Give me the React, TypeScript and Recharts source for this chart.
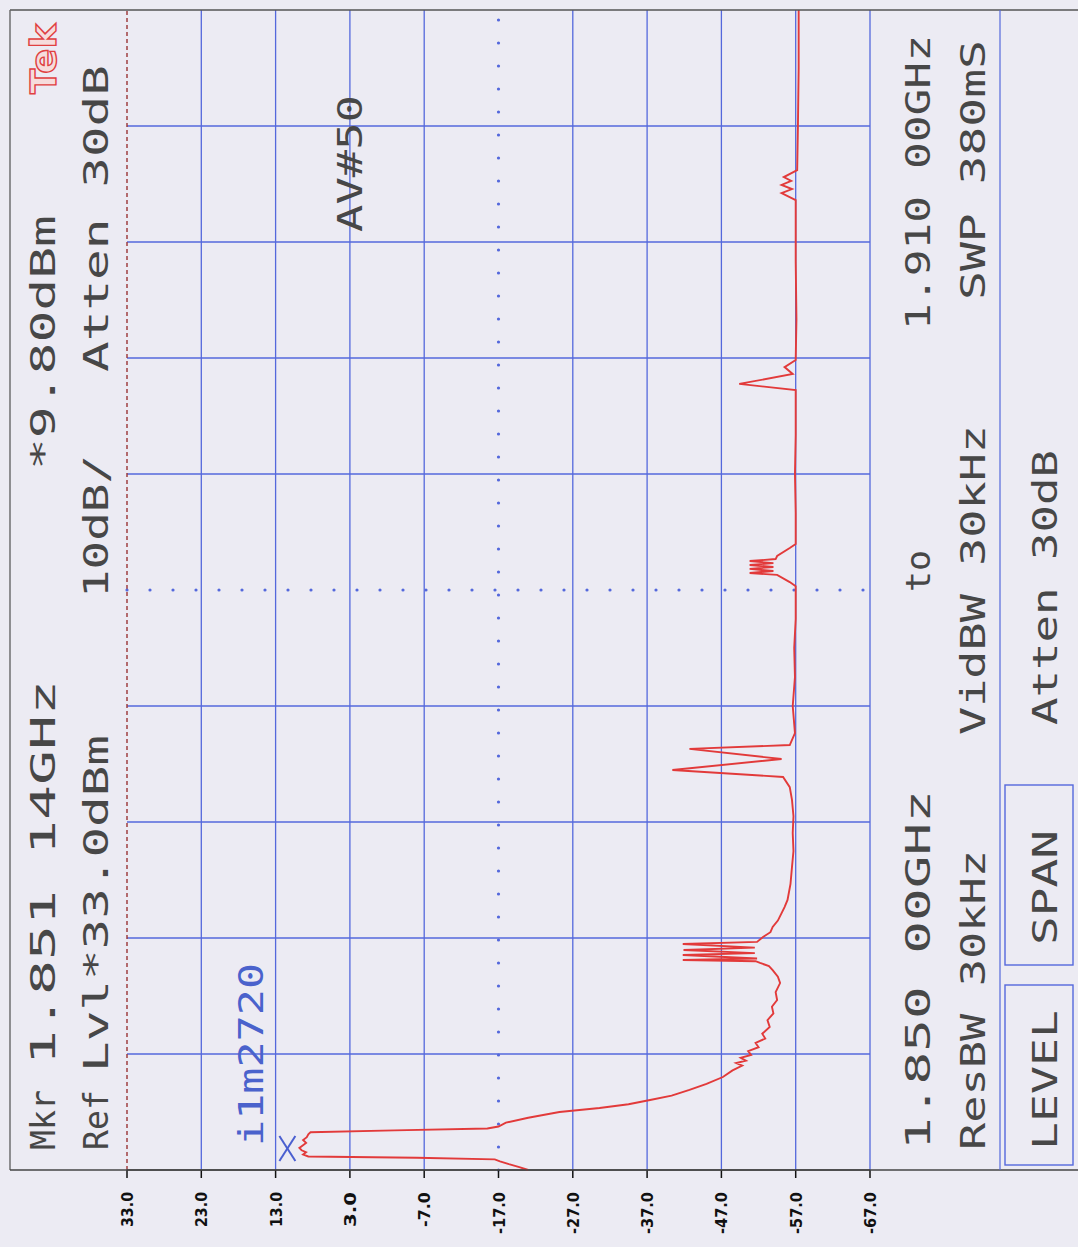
import React from 'react';
import { ScatterChart, Scatter, XAxis, YAxis, ReferenceLine } from 'recharts';

// trace: frequency (MHz) and level (dBm)
const FREQ_MHZ = [
  1850.0, 1850.15, 1850.3, 1850.45, 1850.55, 1850.63, 1850.7, 1850.8, 1850.92, 1851.02,
  1851.14, 1851.26, 1851.4, 1851.55, 1851.7, 1851.85, 1851.95, 1852.05, 1852.15, 1852.25,
  1852.45, 1852.7, 1853.0, 1853.21, 1853.4, 1853.62, 1853.85, 1854.14, 1854.45, 1854.81,
  1855.15, 1855.4, 1855.53, 1855.65, 1855.8, 1855.95, 1856.15, 1856.35, 1856.57, 1856.8,
  1857.05, 1857.4, 1857.75, 1858.1, 1858.45, 1858.79, 1859.2, 1859.67, 1860.0, 1860.34,
  1860.55, 1860.71, 1860.8, 1860.86, 1860.94, 1861.12, 1861.22, 1861.38, 1861.5, 1861.69,
  1861.8, 1862.05, 1862.3, 1862.57, 1862.9, 1863.29, 1863.6, 1863.97, 1864.8, 1865.67,
  1866.5, 1867.43, 1868.3, 1869.14, 1869.8, 1870.33, 1870.69, 1871.26, 1871.78, 1871.98,
  1872.6, 1874.0, 1875.5, 1877.0, 1878.5, 1880.2, 1880.41, 1880.78, 1880.88, 1880.98,
  1881.09, 1881.19, 1881.29, 1881.39, 1881.5, 1881.6, 1881.76, 1882.17, 1882.38, 1884.0,
  1886.0, 1888.0, 1890.34, 1890.66, 1891.17, 1891.53, 1891.9, 1894.0, 1897.0, 1900.17,
  1900.53, 1900.74, 1900.95, 1901.16, 1901.36, 1901.72, 1904.0, 1907.0, 1910.0,
];

const LEVEL_DBM = [
  -21.0, -19.8, -18.4, -17.2, -16.5, -6.0, 8.6, 9.3, 8.9, 9.5,
  9.8, 9.4, 8.9, 9.3, 8.8, 8.6, 8.3, -3.0, -15.5, -17.0,
  -18.0, -21.0, -25.2, -30.6, -34.5, -37.4, -40.3, -42.7, -45.0, -47.2,
  -48.5, -49.8, -49.0, -50.3, -49.6, -51.0, -50.6, -52.0, -51.6, -52.9,
  -52.5, -53.5, -53.2, -54.0, -53.8, -54.5, -54.3, -54.9, -54.6, -53.9,
  -53.4, -52.2, -51.6, -41.8, -51.8, -41.8, -51.5, -41.9, -51.5, -41.8,
  -51.8, -52.6, -53.6, -53.9, -54.6, -55.1, -55.5, -55.9, -56.3, -56.5,
  -56.7, -56.6, -56.7, -56.5, -56.2, -55.3, -40.4, -55.1, -42.7, -56.2,
  -56.9, -56.6, -56.9, -56.8, -57.0, -57.0, -56.2, -54.5, -50.8, -54.0,
  -50.8, -54.0, -50.8, -54.0, -50.8, -54.3, -54.5, -56.2, -57.0, -57.0,
  -56.9, -57.0, -57.0, -49.4, -56.6, -55.5, -57.0, -57.1, -57.0, -57.0,
  -55.1, -56.5, -55.1, -56.4, -55.4, -57.2, -57.3, -57.4, -57.4,
];

const MARKER_FREQ = [1851.14];
const MARKER_LEVEL = [9.8];

const AMP_TICKS = [33, 23, 13, 3, -7, -17, -27, -37, -47, -57, -67];
const AMP_GRID = [23, 13, 3, -7, -27, -37, -47, -57, -67];
const FREQ_GRID = [1856, 1862, 1868, 1874, 1886, 1892, 1898, 1904];

const trace = FREQ_MHZ.map((f, i) => ({ freq: f, amp: LEVEL_DBM[i] }));
const marker = MARKER_FREQ.map((f, i) => ({ freq: f, amp: MARKER_LEVEL[i] }));

const BG = '#ecebf3';
const GRID = '#5468dc';
const INK = '#474747';
const MONO = '"DejaVu Sans Mono", "Liberation Mono", monospace';

const EmptyShape = () => <g />;

const MarkerShape = (props: any) => {
  const { cx, cy } = props;
  return (
    <g>
      <line x1={cx - 20} y1={cy - 12} x2={cx - 4} y2={cy + 13} stroke="#4a5fd0" strokeWidth={2} />
      <line x1={cx - 20} y1={cy + 13} x2={cx - 4} y2={cy - 12} stroke="#4a5fd0" strokeWidth={2} />
      <text
        transform={`translate(${cx - 36},${cy - 2}) rotate(-90)`}
        fontFamily={MONO}
        fontSize={33}
        fill="#4a62cc"
        textLength={183}
        lengthAdjust="spacingAndGlyphs"
      >
        i1m2720
      </text>
    </g>
  );
};

const AmpTick = (props: any) => {
  const { x, y, payload } = props;
  const label = Number(payload.value).toFixed(1);
  return (
    <text
      transform={`translate(${x + 6},${y + 12}) rotate(-90)`}
      textAnchor="end"
      fontFamily='"DejaVu Sans Condensed", "DejaVu Sans", sans-serif'
      fontWeight="bold"
      fontSize={16}
      fill="#111"
      textLength={label.length > 4 ? 42 : 35}
      lengthAdjust="spacingAndGlyphs"
    >
      {label}
    </text>
  );
};

// rotated panel text: x is the baseline, y where the text starts (it reads upward)
const RotText = ({ x, y, len, children, color = INK }: any) => (
  <text
    transform={`translate(${x},${y}) rotate(-90)`}
    fontFamily={MONO}
    fontSize={33}
    fill={color}
    textLength={len}
    lengthAdjust="spacingAndGlyphs"
  >
    {children}
  </text>
);

export default function App() {
  return (
    <div style={{ position: 'absolute', left: 0, top: 0, width: 1078, height: 1247, background: BG }}>
      <ScatterChart
        width={1078}
        height={1247}
        margin={{ top: 10, right: 208, bottom: 17, left: 127 }}
      >
        <XAxis
          type="number"
          dataKey="amp"
          domain={[-67, 33]}
          reversed
          ticks={AMP_TICKS}
          interval={0}
          height={60}
          tickSize={8}
          tickMargin={2}
          tick={<AmpTick />}
          stroke="#333"
          axisLine={{ stroke: '#444', strokeWidth: 1.5 }}
          tickLine={{ stroke: '#111', strokeWidth: 1.5 }}
        />
        <YAxis type="number" dataKey="freq" domain={[1850, 1910]} hide />
        {AMP_GRID.map(a => (
          <ReferenceLine key={'a' + a} x={a} stroke={GRID} strokeWidth={1.3} />
        ))}
        {FREQ_GRID.map(f => (
          <ReferenceLine key={'f' + f} y={f} stroke={GRID} strokeWidth={1.3} />
        ))}
        <ReferenceLine x={33} stroke="#9a3434" strokeWidth={1.4} strokeDasharray="4 3" />
        <ReferenceLine
          x={-17}
          stroke={GRID}
          strokeWidth={3.2}
          strokeDasharray="0 23"
          strokeLinecap="round"
        />
        <ReferenceLine
          y={1880}
          stroke={GRID}
          strokeWidth={3.2}
          strokeDasharray="0 23"
          strokeLinecap="round"
        />
        <Scatter
          data={trace}
          line={{ stroke: '#e23a3a', strokeWidth: 1.9 }}
          lineJointType="linear"
          shape={EmptyShape}
          fill="none"
          isAnimationActive={false}
        />
        <Scatter data={marker} shape={MarkerShape} isAnimationActive={false} />
      </ScatterChart>

      <svg
        width={1078}
        height={1247}
        style={{ position: 'absolute', left: 0, top: 0, pointerEvents: 'none' }}
      >
        {/* frame */}
        <line x1={10} y1={10} x2={1078} y2={10} stroke="#555" strokeWidth={1.6} />
        <line x1={10} y1={10} x2={10} y2={1170} stroke="#666" strokeWidth={1.4} />
        <line x1={10} y1={1170} x2={1078} y2={1170} stroke="#444" strokeWidth={1.5} />
        <line x1={1000} y1={10} x2={1000} y2={1170} stroke={GRID} strokeWidth={1.2} />
        <rect x={1005} y={785} width={68} height={180} fill="none" stroke={GRID} strokeWidth={1.4} />
        <rect x={1005} y={985} width={68} height={180} fill="none" stroke={GRID} strokeWidth={1.4} />

        {/* Tek logo */}
        <text
          transform="translate(56,94) rotate(-90)"
          fontFamily='"DejaVu Sans", sans-serif'
          fontWeight="bold"
          fontSize={36}
          fill="#f6dcdc"
          stroke="#e04040"
          strokeWidth={1.4}
          textLength={70}
          lengthAdjust="spacingAndGlyphs"
        >
          Tek
        </text>

        {/* left panel */}
        <RotText x={55} y={1150} len={60}>Mkr</RotText>
        <RotText x={55} y={1065} len={385}>1.851 14GHz</RotText>
        <RotText x={55} y={470} len={255}>*9.80dBm</RotText>
        <RotText x={108} y={1150} len={60}>Ref</RotText>
        <RotText x={108} y={1072} len={337}>Lvl*33.0dBm</RotText>
        <RotText x={108} y={598} len={143}>10dB/</RotText>
        <RotText x={108} y={372} len={307}>Atten 30dB</RotText>

        {/* in-graticule note */}
        <RotText x={362} y={232} len={137}>AV#50</RotText>

        {/* right panel */}
        <RotText x={930} y={1150} len={360}>1.850 00GHz</RotText>
        <RotText x={930} y={592} len={42}>to</RotText>
        <RotText x={930} y={330} len={295}>1.910 00GHz</RotText>
        <RotText x={985} y={1150} len={300}>ResBW 30kHz</RotText>
        <RotText x={985} y={735} len={310}>VidBW 30kHz</RotText>
        <RotText x={985} y={300} len={260}>SWP 380mS</RotText>
        <RotText x={1057} y={1150} len={140}>LEVEL</RotText>
        <RotText x={1057} y={945} len={115}>SPAN</RotText>
        <RotText x={1057} y={725} len={275}>Atten 30dB</RotText>
      </svg>
    </div>
  );
}
